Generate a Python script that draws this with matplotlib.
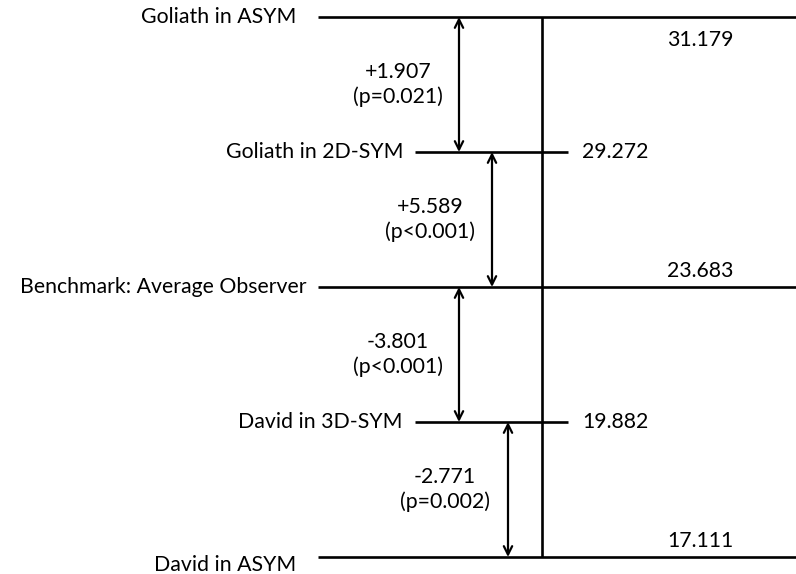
import matplotlib
matplotlib.use("Agg")
import matplotlib.pyplot as plt

# levels from top to bottom
labels = ["Goliath in ASYM", "Goliath in 2D-SYM", "Benchmark: Average Observer",
          "David in 3D-SYM", "David in ASYM"]
values = [31.179, 29.272, 23.683, 19.882, 17.111]
diffs = ["+1.907", "+5.589", "-3.801", "-2.771"]
pvals = ["(p=0.021)", "(p<0.001)", "(p<0.001)", "(p=0.002)"]

plt.rcParams['font.family'] = ['Lato', 'DejaVu Sans']

fig = plt.figure(figsize=(7.96, 5.74), dpi=100)
ax = fig.add_axes([0, 0, 1, 1])
ax.set_xlim(0, 796)
ax.set_ylim(-0.126, 4.126)
ax.axis("off")

n = len(values)
ys = [n - 1 - i for i in range(n)]  # rank position, top = 4

# wide lines for odd levels, short ones for the middle-step levels
long_level = [True, False, True, False, True]
lw = 1.9
fs = 15.3

for i in range(n):
    y = ys[i]
    if long_level[i]:
        ax.plot([318, 796], [y, y], color="black", lw=lw, solid_capstyle="butt")
        tx = 296 if i != 2 else 307
        ty = y if i != n - 1 else y - 0.06
        ax.text(tx, ty, labels[i], ha="right", va="center", fontsize=fs)
        if i == 0:
            ax.text(700, y - 0.17, "%.3f" % values[i], ha="center", va="center", fontsize=fs)
        else:
            ax.text(700, y + 0.12, "%.3f" % values[i], ha="center", va="center", fontsize=fs)
    else:
        ax.plot([415, 568], [y, y], color="black", lw=lw, solid_capstyle="butt")
        ax.text(403, y, labels[i], ha="right", va="center", fontsize=fs)
        ax.text(582, y, "%.3f" % values[i], ha="left", va="center", fontsize=fs)

# central vertical line
ax.plot([542, 542], [ys[-1], ys[0]], color="black", lw=lw, solid_capstyle="butt")

arrow_x = [459, 492, 459, 508]
text_x = [398, 430, 398, 445]
for k in range(n - 1):
    y0, y1 = ys[k], ys[k + 1]
    ax.annotate("", xy=(arrow_x[k], y1), xytext=(arrow_x[k], y0),
                arrowprops=dict(arrowstyle="<->", color="black", lw=1.6,
                                shrinkA=0, shrinkB=0, mutation_scale=15))
    ax.text(text_x[k], (y0 + y1) / 2, diffs[k] + "\n" + pvals[k],
            ha="center", va="center", fontsize=fs, linespacing=1.3)

fig.savefig("out.png", dpi=100)
